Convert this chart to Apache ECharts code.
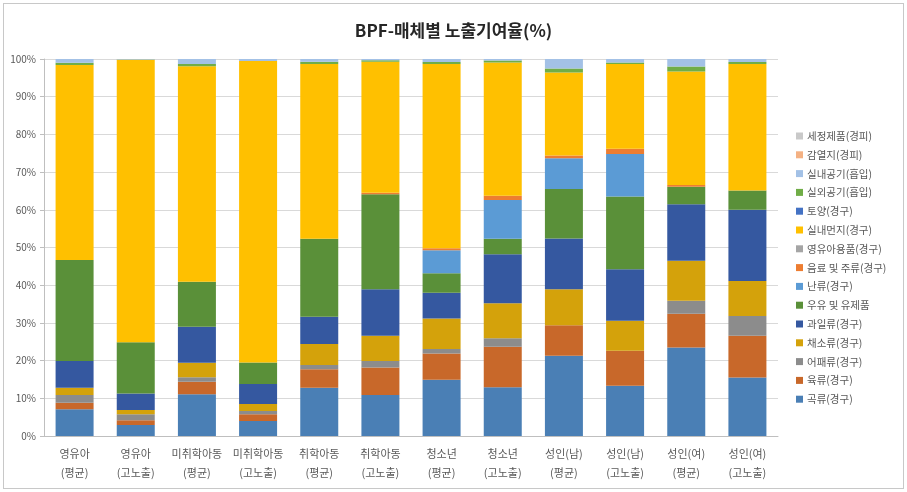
<!DOCTYPE html>
<html>
<head>
<meta charset="utf-8">
<script src="https://cdn.jsdelivr.net/npm/echarts@6/dist/echarts.min.js"></script>
<style>
html,body{margin:0;padding:0;background:#fff;}
#wrap{position:relative;width:907px;height:492px;}
#chart{position:absolute;left:0;top:0;width:907px;height:492px;}
#frame{position:absolute;left:3px;top:3px;width:899px;height:484px;border:1px solid #c8c8c8;pointer-events:none;}
</style>
</head>
<body>
<div id="wrap"><div id="chart"></div><div id="frame"></div></div>
<script>
const categories = ['영유아\n(평균)','영유아\n(고노출)','미취학아동\n(평균)','미취학아동\n(고노출)','취학아동\n(평균)','취학아동\n(고노출)','청소년\n(평균)','청소년\n(고노출)','성인(남)\n(평균)','성인(남)\n(고노출)','성인(여)\n(평균)','성인(여)\n(고노출)'];
const yTickLabels = ['0%','10%','20%','30%','40%','50%','60%','70%','80%','90%','100%'];

const grain      = [7.1,2.9,11.1,4.0,12.8,10.9,14.9,12.9,21.3,13.3,23.5,15.5];
const meat       = [1.7,1.3,3.3,1.8,4.9,7.3,7.0,10.8,8.1,9.3,8.9,11.1];
const fish       = [2.1,1.6,1.2,0.8,1.1,1.7,1.2,2.2,0,0,3.5,5.2];
const vegetable  = [1.9,1.1,3.8,1.9,5.6,6.7,8.1,9.3,9.5,8.0,10.6,9.3];
const fruit      = [7.1,4.4,9.6,5.3,7.2,12.3,6.8,13.0,13.5,13.6,15.0,18.9];
const dairy      = [26.8,13.6,11.9,5.7,20.7,25.2,5.2,4.1,13.1,19.3,4.6,5.1];
const egg        = [0,0,0,0,0,0,6.1,10.3,8.2,11.3,0,0];
const beverage   = [0,0,0,0,0,0.4,0.5,1.1,0.7,1.4,0.5,0];
const babyGoods  = [0,0,0,0,0,0,0,0,0,0,0,0];
const houseDust  = [51.7,74.9,57.2,80.0,46.4,34.8,48.9,35.4,22.0,22.5,30.1,33.6];
const soil       = [0,0,0,0,0,0,0,0,0,0,0,0];
const outdoorAir = [0.6,0.1,0.6,0,0.6,0.4,0.5,0.5,1.1,0.4,1.3,0.5];
const indoorAir  = [1.0,0.1,1.3,0.5,0.7,0.3,0.8,0.4,2.5,0.9,2.0,0.8];
const thermalPaper = [0,0,0,0,0,0,0,0,0,0,0,0];
const detergent  = [0,0,0,0,0,0,0,0,0,0,0,0];

const seriesNames = ['곡류(경구)','육류(경구)','어패류(경구)','채소류(경구)','과일류(경구)','우유 및 유제품','난류(경구)','음료 및 주류(경구)','영유아용품(경구)','실내먼지(경구)','토양(경구)','실외공기(흡입)','실내공기(흡입)','감열지(경피)','세정제품(경피)'];
const seriesData = [grain,meat,fish,vegetable,fruit,dairy,egg,beverage,babyGoods,houseDust,soil,outdoorAir,indoorAir,thermalPaper,detergent];
const colors = ['#4a7fb5','#c8682a','#8c8c8c','#d4a20b','#3558a0','#5a9039','#5b9bd5','#ed7d31','#a5a5a5','#ffc000','#4472c4','#70ad47','#a3c1e6','#f4b183','#c9c9c9'];

const font = '"Noto Sans CJK KR", "Noto Sans", sans-serif';
const chart = echarts.init(document.getElementById('chart'), null, {renderer:'canvas'});
chart.setOption({
  animation:false,
  textStyle:{fontFamily:font},
  title:{
    text:'BPF-매체별 노출기여율(%)',
    left:'center', top:17,
    textStyle:{fontFamily:font,fontSize:17,fontWeight:'bold',color:'#262626'}
  },
  legend:{
    orient:'vertical',
    left:791, top:125,
    itemWidth:7, itemHeight:7, itemGap:6.8,
    icon:'rect',
    data:seriesNames.slice().reverse(),
    textStyle:{fontFamily:font,fontSize:10.5,color:'#595959',lineHeight:12,padding:[0,0,0,-1]}
  },
  grid:{left:44,right:129,top:59,bottom:56},
  xAxis:{
    type:'category',
    data:categories,
    axisLine:{show:true,lineStyle:{color:'#bfbfbf'}},
    axisTick:{show:false},
    axisLabel:{fontFamily:font,fontSize:11,color:'#595959',lineHeight:19,margin:8,interval:0}
  },
  yAxis:{
    type:'value',
    min:0,max:100,interval:10,
    axisLine:{show:true,lineStyle:{color:'#bfbfbf'}},
    axisTick:{show:true,length:4,lineStyle:{color:'#bfbfbf'}},
    splitLine:{show:true,lineStyle:{color:'#d9d9d9'}},
    axisLabel:{fontFamily:font,fontSize:10,color:'#595959',margin:8,
      formatter:function(v){return yTickLabels[Math.round(v/10)];}}
  },
  series:seriesNames.map(function(n,i){
    return {name:n,type:'bar',stack:'total',barWidth:38,data:seriesData[i],
      itemStyle:{color:colors[i]}};
  })
});
</script>
</body>
</html>
